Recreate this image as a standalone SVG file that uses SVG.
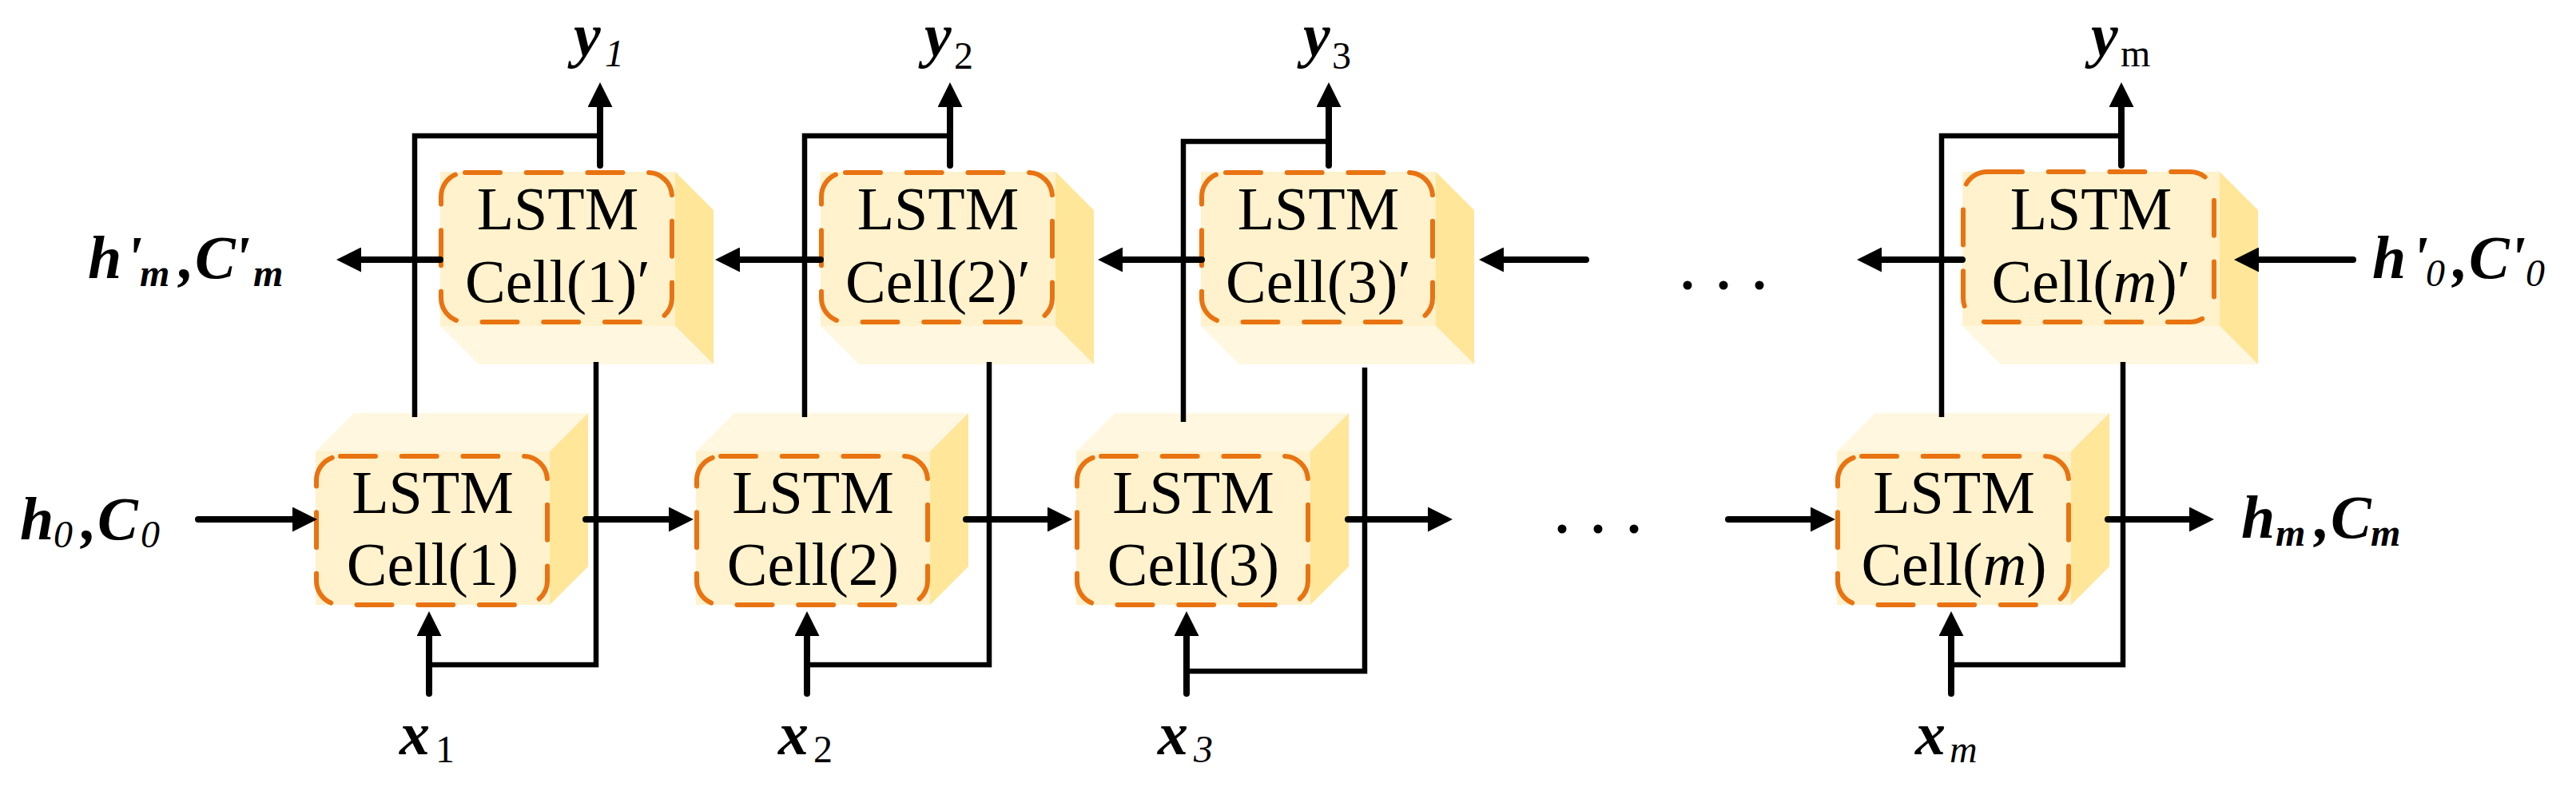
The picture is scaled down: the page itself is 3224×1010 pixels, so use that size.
<svg xmlns="http://www.w3.org/2000/svg" width="3224" height="1010" viewBox="0 0 3224 1010">
<defs>
<style>
.front{fill:#FFF2CC}
.cap{fill:#FFF7E0}
.side{fill:#FFE699}
.dash{fill:none;stroke:#E97311;stroke-width:6;stroke-dasharray:44 32.7;stroke-linecap:round}
.cell{font-size:76px;fill:#000;text-anchor:middle}
.lab{font-size:76px;fill:#000;font-style:italic;font-weight:bold}
.sub{font-size:48px}
.reg{font-weight:normal}
.up{font-style:normal;font-weight:normal}
.ln{fill:none;stroke:#000;stroke-width:6.5;stroke-linejoin:miter}
.ar{fill:none;stroke:#000;stroke-width:8;stroke-linecap:round}
.dot{fill:#000}
</style>
<marker id="ah" markerUnits="userSpaceOnUse" markerWidth="31" markerHeight="31" refX="11" refY="15.5" orient="auto" viewBox="0 0 31 31">
<path d="M0,0 L31,15.5 L0,31 Z" fill="#000"/>
</marker>
</defs>
<rect width="3224" height="1010" fill="#fff"/>
<g font-family="Liberation Serif, Tinos, DejaVu Serif, serif">

<!-- bottom (forward) cells -->
<g id="cell-1">
<polygon class="cap" points="395,565 443,517 736,517 688,565"/>
<polygon class="side" points="688,565 736,517 736,709 688,757"/>
<rect class="front" x="395" y="565" width="293" height="192"/>
<rect class="dash" x="396" y="571" width="289" height="186" rx="30"/>
<text class="cell" x="541.5" y="642">LSTM</text>
<text class="cell" x="541.5" y="732">Cell(1)</text>
</g>
<g id="cell-2">
<polygon class="cap" points="871,565 919,517 1212,517 1164,565"/>
<polygon class="side" points="1164,565 1212,517 1212,709 1164,757"/>
<rect class="front" x="871" y="565" width="293" height="192"/>
<rect class="dash" x="872" y="571" width="289" height="186" rx="30"/>
<text class="cell" x="1017.5" y="642">LSTM</text>
<text class="cell" x="1017.5" y="732">Cell(2)</text>
</g>
<g id="cell-3">
<polygon class="cap" points="1347,565 1395,517 1688,517 1640,565"/>
<polygon class="side" points="1640,565 1688,517 1688,709 1640,757"/>
<rect class="front" x="1347" y="565" width="293" height="192"/>
<rect class="dash" x="1348" y="571" width="289" height="186" rx="30"/>
<text class="cell" x="1493.5" y="642">LSTM</text>
<text class="cell" x="1493.5" y="732">Cell(3)</text>
</g>
<g id="cell-m">
<polygon class="cap" points="2299,565 2347,517 2640,517 2592,565"/>
<polygon class="side" points="2592,565 2640,517 2640,709 2592,757"/>
<rect class="front" x="2299" y="565" width="293" height="192"/>
<rect class="dash" x="2300" y="571" width="289" height="186" rx="30"/>
<text class="cell" x="2445.5" y="642">LSTM</text>
<text class="cell" x="2445.5" y="732">Cell(<tspan font-style="italic">m</tspan>)</text>
</g>

<!-- top (backward) cells -->
<g id="cell-1b">
<polygon class="side" points="845,215 893,263 893,456 845,408"/>
<polygon class="cap" points="551,408 845,408 893,456 599,456"/>
<rect class="front" x="551" y="215" width="294" height="193"/>
<rect class="dash" x="552" y="216" width="289" height="187" rx="30"/>
<text class="cell" x="698" y="287">LSTM</text>
<text class="cell" x="698" y="378">Cell(1)′</text>
</g>
<g id="cell-2b">
<polygon class="side" points="1321,215 1369,263 1369,456 1321,408"/>
<polygon class="cap" points="1027,408 1321,408 1369,456 1075,456"/>
<rect class="front" x="1027" y="215" width="294" height="193"/>
<rect class="dash" x="1028" y="216" width="289" height="187" rx="30"/>
<text class="cell" x="1174" y="287">LSTM</text>
<text class="cell" x="1174" y="378">Cell(2)′</text>
</g>
<g id="cell-3b">
<polygon class="side" points="1797,215 1845,263 1845,456 1797,408"/>
<polygon class="cap" points="1503,408 1797,408 1845,456 1551,456"/>
<rect class="front" x="1503" y="215" width="294" height="193"/>
<rect class="dash" x="1504" y="216" width="289" height="187" rx="30"/>
<text class="cell" x="1650" y="287">LSTM</text>
<text class="cell" x="1650" y="378">Cell(3)′</text>
</g>
<g id="cell-mb">
<polygon class="side" points="2778,215 2826,263 2826,456 2778,408"/>
<polygon class="cap" points="2456,408 2778,408 2826,456 2504,456"/>
<rect class="front" x="2456" y="215" width="322" height="193"/>
<rect class="dash" x="2457" y="215" width="314" height="188" rx="30"/>
<text class="cell" x="2617" y="287">LSTM</text>
<text class="cell" x="2617" y="378">Cell(<tspan font-style="italic">m</tspan>)′</text>
</g>

<!-- connectors -->
<g id="connectors">
<path class="ln" d="M519,522 V170 H751"/>
<path class="ar" d="M751,207 V123" marker-end="url(#ah)"/>
<path class="ln" d="M746,453 V832 H537"/>
<path class="ar" d="M537,868 V785" marker-end="url(#ah)"/>
<path class="ar" d="M248,650 H377" marker-end="url(#ah)"/>
<path class="ar" d="M733,650 H848" marker-end="url(#ah)"/>
<path class="ar" d="M551,325 H441" marker-end="url(#ah)"/>
<path class="ln" d="M1007,522 V170 H1189"/>
<path class="ar" d="M1189,207 V123" marker-end="url(#ah)"/>
<path class="ln" d="M1238,453 V832 H1010"/>
<path class="ar" d="M1010,868 V785" marker-end="url(#ah)"/>
<path class="ar" d="M1209,650 H1322" marker-end="url(#ah)"/>
<path class="ar" d="M1027,325 H915" marker-end="url(#ah)"/>
<path class="ln" d="M1481,528 V177 H1663"/>
<path class="ar" d="M1663,207 V123" marker-end="url(#ah)"/>
<path class="ln" d="M1708,460 V840 H1485"/>
<path class="ar" d="M1485,868 V785" marker-end="url(#ah)"/>
<path class="ar" d="M1687,650 H1798" marker-end="url(#ah)"/>
<path class="ar" d="M1504,325 H1394" marker-end="url(#ah)"/>
<path class="ar" d="M1985,325 H1871" marker-end="url(#ah)"/>
<path class="ln" d="M2430,522 V170 H2655"/>
<path class="ar" d="M2655,207 V123" marker-end="url(#ah)"/>
<path class="ln" d="M2657,453 V832 H2442"/>
<path class="ar" d="M2442,868 V785" marker-end="url(#ah)"/>
<path class="ar" d="M2163,650 H2277" marker-end="url(#ah)"/>
<path class="ar" d="M2638,650 H2751" marker-end="url(#ah)"/>
<path class="ar" d="M2456,325 H2344" marker-end="url(#ah)"/>
<path class="ar" d="M2945,325 H2816" marker-end="url(#ah)"/>
</g>

<g id="ellipsis-top">
<circle class="dot" cx="2112" cy="357" r="5.5"/>
<circle class="dot" cx="2157" cy="357" r="5.5"/>
<circle class="dot" cx="2202" cy="357" r="5.5"/>
</g>
<g id="ellipsis-bottom">
<circle class="dot" cx="1955" cy="662" r="5.5"/>
<circle class="dot" cx="2000" cy="662" r="5.5"/>
<circle class="dot" cx="2045" cy="662" r="5.5"/>
</g>

<g id="label-hpm">
<text class="lab" y="348"><tspan x="110">h</tspan><tspan x="157">'</tspan><tspan class="sub" x="175" y="358">m</tspan><tspan x="224" y="348">,</tspan><tspan x="244">C</tspan><tspan x="292">'</tspan><tspan class="sub" x="317" y="358">m</tspan></text>
</g>
<g id="label-h0">
<text class="lab" y="675"><tspan x="25">h</tspan><tspan class="sub reg" x="67" y="685">0</tspan><tspan x="102" y="675">,</tspan><tspan x="122">C</tspan><tspan class="sub reg" x="176" y="685">0</tspan></text>
</g>
<g id="label-hp0">
<text class="lab" y="348"><tspan x="2969">h</tspan><tspan x="3018">'</tspan><tspan class="sub reg" x="3036" y="358">0</tspan><tspan x="3070" y="348">,</tspan><tspan x="3090">C</tspan><tspan x="3140">'</tspan><tspan class="sub reg" x="3161" y="358">0</tspan></text>
</g>
<g id="label-hm">
<text class="lab" y="673"><tspan x="2805">h</tspan><tspan class="sub" x="2848" y="683">m</tspan><tspan x="2897" y="673">,</tspan><tspan x="2917">C</tspan><tspan class="sub" x="2967" y="683">m</tspan></text>
</g>
<g id="label-x1"><text class="lab" y="944"><tspan x="500">x</tspan><tspan class="sub up" x="545" y="954">1</tspan></text></g>
<g id="label-x2"><text class="lab" y="944"><tspan x="974">x</tspan><tspan class="sub up" x="1018" y="954">2</tspan></text></g>
<g id="label-x3"><text class="lab" y="944"><tspan x="1449">x</tspan><tspan class="sub reg" x="1494" y="954">3</tspan></text></g>
<g id="label-xm"><text class="lab" y="944"><tspan x="2397">x</tspan><tspan class="sub reg" x="2440" y="954">m</tspan></text></g>
<g id="label-y1"><text class="lab" y="70"><tspan x="718">y</tspan><tspan class="sub reg" x="757" y="83">1</tspan></text></g>
<g id="label-y2"><text class="lab" y="70"><tspan x="1157">y</tspan><tspan class="sub up" x="1194" y="86">2</tspan></text></g>
<g id="label-y3"><text class="lab" y="70"><tspan x="1631">y</tspan><tspan class="sub up" x="1667" y="86">3</tspan></text></g>
<g id="label-ym"><text class="lab" y="70"><tspan x="2617">y</tspan><tspan class="sub up" x="2654" y="83">m</tspan></text></g>
</g>
</svg>
